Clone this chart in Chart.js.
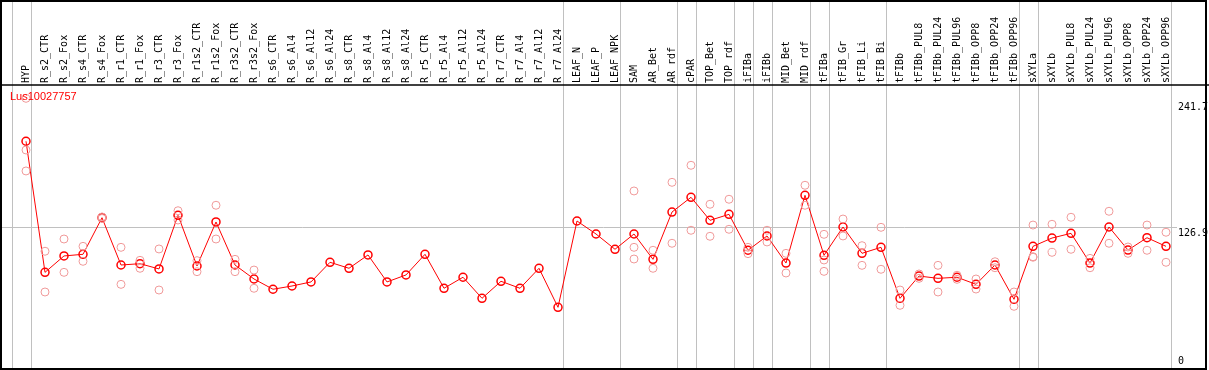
<html>
<head>
  <script src="https://cdn.jsdelivr.net/npm/chart.js@4.4.1/dist/chart.umd.min.js"></script>
  <style>
    body { margin: 0; background: #fff; }
  </style>
</head>
<body>
  <canvas id="myChart" width="1209" height="370"></canvas>
  <script>
    // sample names (top labels)
    var categories = [
      "HYP", "R_s2_CTR", "R_s2_Fox", "R_s4_CTR", "R_s4_Fox", "R_r1_CTR", "R_r1_Fox",
      "R_r3_CTR", "R_r3_Fox", "R_r1s2_CTR", "R_r1s2_Fox", "R_r3s2_CTR", "R_r3s2_Fox",
      "R_s6_CTR", "R_s6_Al4", "R_s6_Al12", "R_s6_Al24", "R_s8_CTR", "R_s8_Al4",
      "R_s8_Al12", "R_s8_Al24", "R_r5_CTR", "R_r5_Al4", "R_r5_Al12", "R_r5_Al24",
      "R_r7_CTR", "R_r7_Al4", "R_r7_Al12", "R_r7_Al24", "LEAF_N", "LEAF_P", "LEAF_NPK",
      "SAM", "AR_Bet", "AR_rdf", "cPAR", "TOP_Bet", "TOP_rdf", "iFIBa", "iFIBb",
      "MID_Bet", "MID_rdf", "tFIBa", "tFIB_Gr", "tFIB_Li", "tFIB_Bi", "tFIBb",
      "tFIBb_PUL8", "tFIBb_PUL24", "tFIBb_PUL96", "tFIBb_OPP8", "tFIBb_OPP24", "tFIBb_OPP96",
      "sXYLa", "sXYLb", "sXYLb_PUL8", "sXYLb_PUL24", "sXYLb_PUL96", "sXYLb_OPP8",
      "sXYLb_OPP24", "sXYLb_OPP96"
    ];

    // mean expression
    var meanValues = [
      206.3, 86.3, 101.3, 102.8, 136.3, 93.0, 94.2, 89.4, 138.5, 92.1, 132.4, 93.0, 80.2,
      70.8, 73.8, 77.5, 95.5, 90.0, 102.2, 77.5, 83.9, 102.8, 71.7, 81.8, 62.5,
      78.1, 71.7, 90.0, 54.3, 133.3, 121.4, 107.4,
      121.4, 98.2, 141.5, 155.0, 133.9, 139.4, 106.5, 119.6, 94.8, 156.8,
      101.9, 127.8, 103.7, 109.2, 62.5, 82.9, 80.8, 81.8, 75.3, 93.0, 61.6,
      110.1, 117.7, 122.0, 94.8, 127.8, 106.7, 118.0, 110.1
    ];

    // replicates
    var rep1 = [
      245.6, 105.6, 116.8, 110.1, 137.0, 109.2, 97.3, 107.7, 142.7, 97.0, 147.7, 98.2, 88.4,
      null, null, null, null, null, null, null, null, null, null, null, null,
      null, null, null, null, null, null, null,
      160.8, 106.5, 168.7, 184.3, 148.6, 153.2, 109.2, 124.8, 103.7, 166.0,
      121.1, 135.1, 110.7, 127.5, 70.1, 80.8, 92.7, 83.6, 80.2, 96.0, 68.3,
      129.6, 130.3, 136.7, 99.1, 142.2, 103.7, 129.6, 123.0
    ];
    var rep2 = [
      198.3, 68.3, 86.3, 96.4, 135.6, 75.3, 90.0, 70.1, 134.2, 86.9, 116.8, 86.9, 71.7,
      null, null, null, null, null, null, null, null, null, null, null, null,
      null, null, null, null, null, null, null,
      109.2, 90.0, 112.9, 124.8, 119.3, 125.7, 103.4, 114.1, 85.7, 147.7,
      97.6, 119.6, 92.7, 89.1, 56.1, 84.8, 68.3, 79.9, 71.0, 90.5, 55.2,
      100.6, 104.6, 107.4, 90.5, 112.9, 109.5, 106.5, 95.5
    ];
    var rep3 = [
      179.1, null, null, null, null, null, null, null, null, null, null, null, null,
      null, null, null, null, null, null, null, null, null, null, null, null,
      null, null, null, null, null, null, null,
      98.5, null, null, null, null, null, null, null, null, null,
      87.2, null, null, null, null, null, null, null, null, null, null,
      100.1, null, null, null, null, null, null, null
    ];

    var yTickValues = [0, 126.9, 241.7];
    var groupEnds = [-1, 0, 28, 31, 34, 35, 37, 38, 39, 41, 42, 45, 52, 53, 60];
    var geneName = "Lus10027757";

    function toPoints(arr) {
      return arr.map(function (v, i) { return { x: i, y: v }; });
    }

    var repStyle = {
      showLine: false,
      pointRadius: 4,
      pointBorderWidth: 1,
      pointBorderColor: "#f09a9a",
      pointBackgroundColor: "rgba(0,0,0,0)",
      pointHoverRadius: 4
    };

    var frame = {
      id: "frame",
      beforeDatasetsDraw: function (chart) {
        var ctx = chart.ctx, a = chart.chartArea, xs = chart.scales.x;
        ctx.save();
        ctx.strokeStyle = "#c0c0c0";
        ctx.lineWidth = 1;
        groupEnds.forEach(function (g) {
          var px = Math.round(xs.getPixelForValue(g + 0.25)) + 0.5;
          ctx.beginPath();
          ctx.moveTo(px, 0);
          ctx.lineTo(px, a.bottom);
          ctx.stroke();
        });
        ctx.restore();
      },
      afterDraw: function (chart) {
        var ctx = chart.ctx, a = chart.chartArea, ys = chart.scales.y;
        ctx.save();
        // y labels
        ctx.font = "10px 'DejaVu Sans Mono'";
        ctx.textAlign = "left";
        ctx.textBaseline = "middle";
        yTickValues.forEach(function (v) {
          var py = Math.min(ys.getPixelForValue(v) + 5, a.bottom - 8);
          ctx.fillStyle = "#fff";
          ctx.fillRect(a.right - 29, py - 6, 28, 12);
          ctx.fillStyle = "#000";
          ctx.fillText(String(v), a.right - 28, py);
        });
        // gene name
        ctx.font = "11px 'Liberation Sans'";
        ctx.fillStyle = "#ff0000";
        ctx.fillText(geneName, a.left + 9, a.top + 12);
        // frame
        ctx.strokeStyle = "#000";
        ctx.lineWidth = 2;
        ctx.strokeRect(1, 1, a.right - 1, a.bottom - 1);
        ctx.lineWidth = 1.5;
        ctx.beginPath();
        ctx.moveTo(0, a.top);
        ctx.lineTo(chart.width, a.top);
        ctx.stroke();
        ctx.restore();
      }
    };

    new Chart("myChart", {
      type: "line",
      data: {
        datasets: [
          Object.assign({ data: toPoints(rep1) }, repStyle),
          Object.assign({ data: toPoints(rep2) }, repStyle),
          Object.assign({ data: toPoints(rep3) }, repStyle),
          {
            data: toPoints(meanValues),
            borderColor: "#ff0000",
            borderWidth: 1,
            pointRadius: 4,
            pointBorderWidth: 1.5,
            pointBorderColor: "#ff0000",
            pointBackgroundColor: "rgba(0,0,0,0)",
            tension: 0
          }
        ]
      },
      options: {
        responsive: false,
        animation: false,
        layout: { autoPadding: false, padding: { left: 1, right: 3, top: 0, bottom: 1 } },
        plugins: {
          legend: { display: false },
          title: { display: false },
          tooltip: { enabled: false }
        },
        scales: {
          x: {
            type: "linear",
            position: "top",
            min: -25 / 19,
            max: 60 + 40 / 19,
            afterBuildTicks: function (s) {
              s.ticks = categories.map(function (c, i) { return { value: i }; });
            },
            afterFit: function (s) { s.height = 85; },
            grid: { display: false, drawTicks: false },
            border: { display: false },
            ticks: {
              autoSkip: false,
              maxRotation: 90,
              minRotation: 90,
              padding: 2,
              labelOffset: 12,
              color: "#000",
              font: { family: "'DejaVu Sans Mono'", size: 10 },
              callback: function (v) { return categories[v]; }
            }
          },
          y: {
            position: "right",
            min: -2.2,
            max: 257.8,
            afterBuildTicks: function (s) {
              s.ticks = yTickValues.map(function (v) { return { value: v }; });
            },
            afterFit: function (s) { s.width = 0; },
            grid: {
              drawTicks: false,
              color: function (c) { return c.tick && c.tick.value === 126.9 ? "#c0c0c0" : "rgba(0,0,0,0)"; }
            },
            border: { display: false },
            ticks: { display: false }
          }
        }
      },
      plugins: [frame]
    });
  </script>
</body>
</html>
